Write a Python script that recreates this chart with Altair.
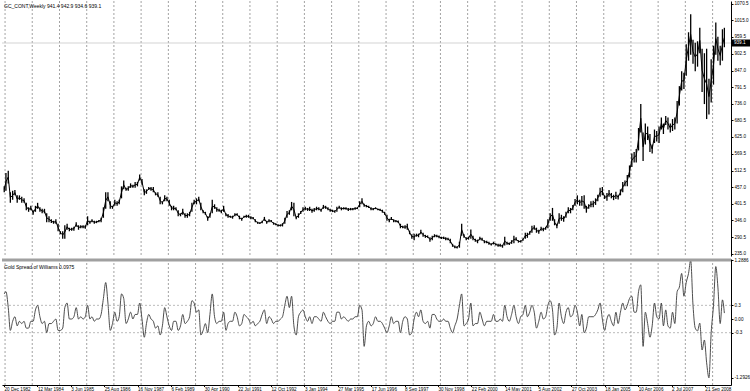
import altair as alt
import pandas as pd

FONT = "Liberation Sans"
price_title = "GC_CONT,Weekly  941.4 942.9 934.6 939.1"
osc_title = "Gold Spread of Williams 0.0975"
last_price = 939.1

# first monthly bar is Dec 1982, last is Jun 2009
price_high = [
    460,
    505, 512, 440, 445, 448, 430, 430, 425, 420, 405, 390, 395,   # 1983
    380, 395, 405, 390, 385, 385, 370, 360, 350, 345, 350, 335,   # 1984
    310, 310, 330, 335, 322, 322, 325, 340, 330, 330, 330, 330,   # 1985
    360, 345, 350, 345, 345, 348, 355, 390, 440, 440, 410, 395,   # 1986
    415, 410, 415, 460, 480, 455, 460, 470, 465, 475, 475, 500,   # 1987
    485, 450, 450, 458, 458, 458, 440, 440, 425, 410, 430, 425,   # 1988
    415, 395, 395, 390, 380, 370, 385, 370, 370, 375, 405, 415,   # 1989
    420, 425, 405, 380, 375, 360, 370, 415, 400, 390, 385, 382,   # 1990
    395, 370, 368, 362, 362, 370, 370, 362, 355, 362, 365, 365,   # 1991
    360, 358, 350, 342, 340, 345, 358, 345, 350, 348, 340, 337,   # 1992
    333, 333, 337, 355, 378, 380, 408, 405, 360, 370, 378, 390,   # 1993
    392, 388, 392, 385, 388, 392, 390, 385, 398, 395, 390, 385,   # 1994
    382, 380, 392, 395, 390, 390, 390, 388, 388, 388, 390, 390,   # 1995
    410, 420, 402, 398, 395, 390, 388, 390, 386, 385, 382, 375,   # 1996
    365, 352, 358, 350, 348, 346, 335, 328, 330, 335, 312, 300,   # 1997
    302, 302, 302, 315, 305, 298, 296, 290, 295, 300, 298, 296,   # 1998
    292, 292, 290, 288, 285, 268, 262, 260, 275, 335, 300, 290,   # 1999
    292, 316, 295, 285, 282, 292, 288, 280, 278, 275, 270, 275,   # 2000
    270, 268, 268, 265, 292, 275, 272, 280, 295, 290, 280, 280,   # 2001
    286, 305, 305, 310, 328, 330, 322, 315, 325, 322, 325, 350,   # 2002
    370, 388, 350, 335, 370, 365, 360, 375, 390, 388, 398, 418,   # 2003
    430, 415, 428, 430, 395, 400, 410, 412, 420, 432, 455, 458,   # 2004
    430, 438, 448, 438, 432, 442, 432, 450, 475, 480, 498, 530,   # 2005
    570, 575, 585, 655, 735, 640, 670, 660, 635, 600, 650, 645,   # 2006
    660, 690, 670, 695, 690, 670, 685, 690, 745, 795, 845, 840,   # 2007
    935, 975, 1035, 950, 940, 945, 990, 920, 905, 920, 820, 885,  # 2008
    930, 1008, 960, 930, 985, 990,                                # 2009
]
price_low = [
    440,
    445, 470, 405, 415, 430, 405, 415, 405, 405, 380, 375, 380,   # 1983
    365, 375, 385, 375, 370, 370, 340, 340, 338, 335, 335, 310,   # 1984
    300, 285, 285, 315, 310, 312, 312, 325, 315, 320, 320, 318,   # 1985
    330, 335, 340, 335, 337, 340, 340, 355, 385, 410, 385, 385,   # 1986
    395, 395, 400, 420, 450, 445, 445, 455, 455, 455, 460, 480,   # 1987
    465, 430, 435, 448, 445, 440, 430, 425, 400, 400, 410, 410,   # 1988
    395, 380, 380, 380, 360, 360, 365, 355, 355, 360, 375, 400,   # 1989
    400, 410, 380, 370, 365, 345, 355, 370, 385, 375, 375, 370,   # 1990
    375, 360, 355, 355, 352, 360, 362, 350, 345, 355, 355, 355,   # 1991
    350, 350, 340, 335, 334, 337, 345, 335, 340, 340, 332, 330,   # 1992
    326, 326, 326, 335, 355, 365, 380, 360, 350, 355, 368, 375,   # 1993
    380, 378, 378, 372, 375, 380, 380, 375, 385, 385, 380, 375,   # 1994
    374, 372, 375, 385, 380, 383, 382, 378, 380, 380, 382, 384,   # 1995
    390, 400, 392, 390, 388, 380, 380, 384, 380, 378, 372, 365,   # 1996
    345, 340, 348, 340, 340, 338, 320, 320, 318, 315, 300, 285,   # 1997
    280, 292, 290, 300, 292, 288, 288, 275, 280, 290, 290, 287,   # 1998
    284, 284, 280, 280, 270, 258, 253, 252, 255, 295, 288, 280,   # 1999
    282, 285, 280, 275, 270, 280, 278, 270, 270, 265, 262, 266,   # 2000
    262, 258, 258, 255, 262, 265, 264, 268, 270, 278, 272, 272,   # 2001
    278, 285, 288, 298, 305, 315, 305, 302, 312, 310, 315, 320,   # 2002
    345, 345, 330, 320, 335, 345, 342, 355, 370, 370, 380, 395,   # 2003
    400, 395, 395, 385, 372, 385, 390, 390, 398, 410, 425, 430,   # 2004
    418, 412, 425, 420, 414, 418, 416, 430, 440, 460, 460, 490,   # 2005
    525, 540, 540, 580, 640, 545, 600, 615, 575, 570, 605, 610,   # 2006
    605, 650, 635, 665, 650, 640, 645, 650, 670, 730, 780, 785,   # 2007
    830, 880, 900, 870, 845, 860, 905, 775, 735, 685, 700, 740,   # 2008
    800, 900, 880, 865, 880, 925,                                 # 2009
]
osc_values = [
    0.55,
    0.60, 0.25, -0.25, -0.05, 0.05, -0.15, -0.05, -0.10, -0.05, -0.20, -0.20, -0.05, # 1983
    -0.05, 0.20, 0.30, 0.05, -0.10, -0.05, -0.30, -0.10, -0.10, -0.05, 0.00, -0.25,  # 1984
    -0.25, -0.20, 0.25, 0.35, 0.00, 0.00, 0.05, 0.25, 0.00, 0.05, 0.00, 0.05,        # 1985
    0.30, 0.00, 0.05, -0.05, 0.00, 0.00, 0.10, 0.45, 0.80, 0.35, -0.25, -0.10,       # 1986
    0.15, -0.05, 0.05, 0.55, 0.45, -0.10, 0.00, 0.15, 0.00, 0.10, 0.10, 0.35,        # 1987
    0.00, -0.40, -0.10, 0.10, 0.00, -0.05, -0.20, -0.15, -0.35, -0.15, 0.25, 0.05,   # 1988
    -0.15, -0.25, -0.05, -0.05, -0.25, -0.15, 0.10, -0.10, -0.05, 0.05, 0.40, 0.35,  # 1989
    0.15, 0.20, -0.35, -0.25, -0.10, -0.30, 0.10, 0.55, 0.05, -0.10, -0.05, -0.05,   # 1990
    0.15, -0.25, -0.10, -0.05, -0.05, 0.15, 0.05, -0.15, -0.10, 0.10, 0.05, 0.00,    # 1991
    -0.10, -0.05, -0.15, -0.10, -0.05, 0.10, 0.20, -0.10, 0.05, 0.00, -0.10, -0.05,  # 1992
    -0.05, 0.00, 0.05, 0.30, 0.50, 0.25, 0.50, -0.15, -0.35, 0.05, 0.15, 0.20,       # 1993
    0.05, -0.05, 0.05, -0.10, 0.05, 0.05, 0.00, -0.05, 0.15, 0.05, -0.05, -0.10,     # 1994
    -0.05, -0.05, 0.15, 0.15, 0.00, 0.05, 0.00, -0.05, 0.00, 0.00, 0.05, 0.05,       # 1995
    0.30, 0.20, -0.60, -0.15, -0.05, -0.15, -0.10, 0.05, -0.05, -0.05, -0.10, -0.20, # 1996
    -0.30, -0.15, 0.05, -0.10, -0.05, -0.05, -0.30, -0.05, 0.05, 0.00, -0.35, -0.30, # 1997
    0.00, 0.15, 0.05, 0.20, -0.05, -0.10, -0.05, -0.20, 0.10, 0.10, 0.00, -0.05,     # 1998
    -0.05, 0.00, -0.05, -0.05, -0.20, -0.30, -0.15, 0.00, 0.30, 0.55, -0.15, -0.10,  # 1999
    0.00, 0.35, -0.15, -0.10, -0.10, 0.15, 0.00, -0.15, -0.05, -0.05, -0.05, 0.10,   # 2000
    -0.05, -0.05, 0.00, -0.05, 0.30, 0.05, -0.05, 0.10, 0.30, 0.05, -0.10, 0.05,     # 2001
    0.10, 0.30, 0.05, 0.15, 0.30, 0.15, -0.20, -0.05, 0.15, 0.00, 0.05, 0.30,        # 2002
    0.40, 0.20, -0.35, -0.20, 0.35, 0.05, -0.10, 0.15, 0.25, 0.05, 0.10, 0.30,       # 2003
    0.15, -0.15, 0.10, -0.30, -0.20, 0.05, 0.05, 0.05, 0.10, 0.20, 0.35, 0.00,       # 2004
    -0.25, 0.00, 0.10, -0.05, -0.15, 0.15, -0.10, 0.15, 0.35, 0.20, 0.30, 0.45,      # 2005
    0.50, 0.15, 0.15, 0.60, 0.75, -0.60, 0.15, -0.10, -0.40, -0.15, 0.35, 0.05,      # 2006
    0.00, 0.35, -0.15, 0.20, -0.15, -0.20, 0.15, -0.10, 0.60, 0.70, 1.00, 0.50,      # 2007
    0.80, 1.00, 1.29, 0.30, -0.20, -0.26, -0.09, -0.68, -0.46, -0.96, -1.29, -0.30,  # 2008
    0.30, 1.15, 0.70, -0.10, 0.42, 0.13,                                             # 2009
]

x_label_dates = ["1982-12-20", "1984-03-12", "1985-06-03", "1986-08-25", "1987-11-16",
                 "1989-02-06", "1990-04-30", "1991-07-22", "1992-10-12", "1994-01-03",
                 "1995-03-27", "1996-06-17", "1997-09-08", "1998-11-30", "2000-02-22",
                 "2001-05-14", "2002-08-05", "2003-10-27", "2005-01-18", "2006-04-10",
                 "2007-07-02", "2008-09-21"]
grid_years = list(range(1983, 2010))
price_ticks = [235.0, 290.5, 346.0, 401.5, 457.0, 512.5, 569.5, 625.0, 680.5, 736.0,
               791.5, 847.0, 902.5, 959.5, 1015.0, 1070.5]
osc_ticks = [1.2886, 0.3, 0.0, -0.3, -1.2926]
osc_levels = [0.3, -0.3]

# ---- tables ----
months = [(1982, 12)] + [(y, m) for y in range(1983, 2009) for m in range(1, 13)] + [(2009, m) for m in range(1, 7)]
dates = []
for (y, m) in months:
    d = 15
    if (y, m) == (1982, 12):
        d = 23
    if (y, m) == (2009, 6):
        d = 10
    dates.append(f"{y}-{m:02d}-{d:02d}")
price_df = pd.DataFrame({"date": dates, "high": price_high, "low": price_low})
osc_df = pd.DataFrame({"date": dates, "osc": osc_values})
grid_df = pd.DataFrame({"date": [f"{y}-01-03" for y in grid_years]})


def ms(s):
    return int(pd.Timestamp(s).value // 10**6)


W = 729
H_TOP = 255
H_BOT = 126
x_scale = alt.Scale(type="utc", domain=[ms("1982-11-23"), ms("2009-09-07")])
GRID_COLOR = "#8c8c8c"

# ---------------- top panel ----------------
y_price = alt.Scale(domain=[227.3, 1079.5], nice=False, zero=False)
price_axis = alt.Axis(orient="right", values=price_ticks, format=".1f", grid=False,
                      domainColor="#000000", tickColor="#000000", tickSize=2,
                      labelFontSize=4.6, labelFont=FONT, labelColor="#000000",
                      labelPadding=1, title=None, labelOverlap=False)

grid_top = alt.Chart(grid_df).mark_rule(color=GRID_COLOR, strokeDash=[2, 2], strokeWidth=0.8).encode(
    x=alt.X("date:T", scale=x_scale, axis=None))

last_line = alt.Chart(pd.DataFrame({"p": [last_price]})).mark_rule(color="#c8c8c8", strokeWidth=0.8).encode(
    y=alt.Y("p:Q", scale=y_price, axis=price_axis))

bars = alt.Chart(price_df).mark_rule(color="#000000", strokeWidth=1.3).encode(
    x=alt.X("date:T", scale=x_scale, axis=None),
    y=alt.Y("low:Q", scale=y_price, axis=price_axis),
    y2="high:Q")

mid_line = alt.Chart(price_df).transform_calculate(mid="(datum.high + datum.low) / 2").mark_line(
    color="#000000", strokeWidth=1.0).encode(
    x=alt.X("date:T", scale=x_scale, axis=None),
    y=alt.Y("mid:Q", scale=y_price, axis=price_axis))

title_top = alt.Chart(pd.DataFrame({"t": [price_title]})).mark_text(
    align="left", baseline="middle", fontSize=5, font=FONT, color="#000000").encode(
    x=alt.value(2), y=alt.value(5), text="t:N")

box = alt.Chart(pd.DataFrame({"p": [last_price]})).mark_rect(
    color="#000000", yOffset=-3.5, y2Offset=3.5).encode(
    x=alt.value(730), x2=alt.value(748), y=alt.Y("p:Q", scale=y_price, axis=price_axis), y2="p:Q")
box_text = alt.Chart(pd.DataFrame({"p": [last_price]})).mark_text(
    align="left", baseline="middle", fontSize=4.6, font=FONT, color="#ffffff").encode(
    x=alt.value(732), y=alt.Y("p:Q", scale=y_price, axis=price_axis), text=alt.Text("p:Q", format=".1f"))

top = alt.layer(grid_top, last_line, bars, mid_line, title_top, box, box_text).properties(
    width=W, height=H_TOP)

# ---------------- bottom panel ----------------
y_osc = alt.Scale(domain=[-1.447, 1.316], nice=False, zero=False)
osc_axis = alt.Axis(orient="right", values=osc_ticks, grid=False,
                    labelExpr="datum.value == 0 ? '0.00' : replace(format(datum.value, abs(datum.value) > 1 ? '.4f' : '.1f'), '\u2212', '-')",
                    domainColor="#000000", tickColor="#000000", tickSize=2,
                    labelFontSize=4.6, labelFont=FONT, labelColor="#000000",
                    labelPadding=1, title=None, labelOverlap=False)
x_axis = alt.Axis(values=[ms(d) for d in x_label_dates], format="%-d %b %Y", labelAlign="left",
                  labelBaseline="top", labelFontSize=4.6, labelFont=FONT, labelColor="#000000",
                  labelPadding=0, tickSize=1.5, tickColor="#000000", domainColor="#000000",
                  grid=False, labelFlush=False, labelOverlap=False, title=None)

grid_bot = alt.Chart(grid_df).mark_rule(color=GRID_COLOR, strokeDash=[2, 2], strokeWidth=0.8).encode(
    x=alt.X("date:T", scale=x_scale, axis=x_axis))

levels = alt.Chart(pd.DataFrame({"v": osc_levels})).mark_rule(
    color="#a8a8a8", strokeDash=[2, 2], strokeWidth=0.8).encode(
    y=alt.Y("v:Q", scale=y_osc, axis=osc_axis))

osc_line = alt.Chart(osc_df).mark_line(color="#3a3a3a", strokeWidth=0.9, interpolate="monotone").encode(
    x=alt.X("date:T", scale=x_scale, axis=x_axis),
    y=alt.Y("osc:Q", scale=y_osc, axis=osc_axis))

sep = alt.Chart(pd.DataFrame({"a": [0]})).mark_rule(color="#a0a0a0", strokeWidth=3).encode(
    x=alt.value(0), x2=alt.value(W), y=alt.value(1))

title_bot = alt.Chart(pd.DataFrame({"t": [osc_title]})).mark_text(
    align="left", baseline="middle", fontSize=5, font=FONT, color="#000000").encode(
    x=alt.value(2), y=alt.value(8), text="t:N")

bottom = alt.layer(grid_bot, levels, osc_line, sep, title_bot).properties(width=W, height=H_BOT)

chart = alt.vconcat(top, bottom, spacing=0).resolve_scale(x="shared").properties(
    padding={"left": 0, "top": 0, "right": 0, "bottom": 0},
    background="#ffffff",
).configure_view(stroke=None)

chart.save("out.html", embed_options={"renderer": "svg", "actions": False})
